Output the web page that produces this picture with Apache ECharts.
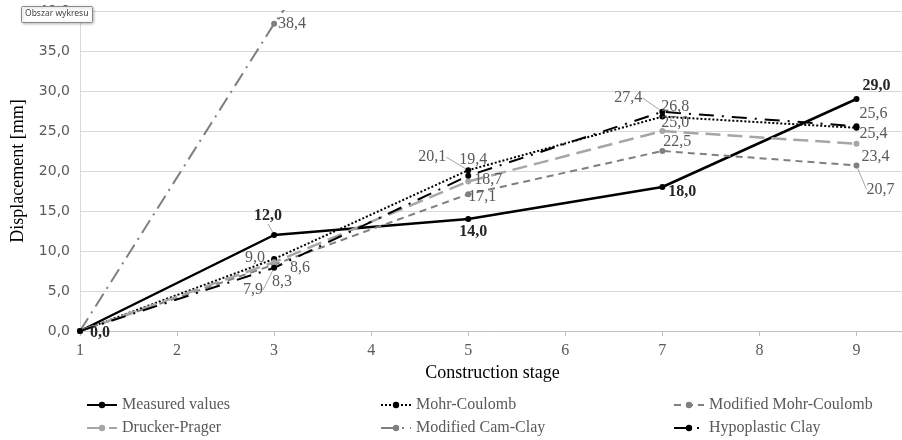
<!DOCTYPE html>
<html><head><meta charset="utf-8">
<script src="https://cdn.jsdelivr.net/npm/echarts@6/dist/echarts.min.js"></script>
<style>html,body{margin:0;padding:0;background:#fff}#c{width:902px;height:440px}</style>
</head><body><div id="c"></div>
<script>
// ---- data ----
const stages = [1, 3, 5, 7, 9];
const yTicks = [0, 5, 10, 15, 20, 25, 30, 35, 40];
const measured       = [0.0, 12.0, 14.0, 18.0, 29.0];
const mohrCoulomb    = [0.0,  9.0, 20.1, 26.8, 25.4];
const modMohrCoulomb = [0.0,  8.3, 17.1, 22.5, 20.7];
const druckerPrager  = [0.0,  8.6, 18.7, 25.0, 23.4];
const modCamClay     = [0.0, 38.4, 73.0, null, null];
const hypoplastic    = [0.0,  7.9, 19.4, 27.4, 25.6];

// ---- label placement (pixel offsets of data labels, null = hidden) ----
const labelOffsets = {
  'Measured values':       [[20, 2], [-6, -19], [5, 13], [20, 5], [20, -13]],
  'Mohr-Coulomb':          [null, [-19, -1], [-36, -13], [13, -10], [17, 6]],
  'Modified Mohr-Coulomb': [null, [8, 17], [14, 3], [15, -9], [24, 24]],
  'Drucker-Prager':        [null, [26, 6], [20, -2], [13, -8], [19, 13]],
  'Modified Cam-Clay':     [null, [18, 0], null],
  'Hypoplastic Clay':      [null, [-21, 22], [5, -16], [-34, -14], [17, -12]]
};
const leaderLines = {
  'Mohr-Coulomb': [2], 'Modified Mohr-Coulomb': [4], 'Hypoplastic Clay': [1, 3], 'Measured values': [1]
};

const fmt = v => v.toFixed(1).replace('.', ',');
const serif = 'Liberation Serif';

function mk(name, values, color, lineStyle, labelColor, bold) {
  const offs = labelOffsets[name];
  const leads = leaderLines[name] || [];
  const data = [];
  const dataOffs = [];
  values.forEach((v, i) => {
    if (v == null) return;
    const o = offs[i];
    data.push({
      value: [stages[i], v],
      label: { show: !!o },
      labelLine: { show: leads.indexOf(i) >= 0 }
    });
    dataOffs.push(o || [0, 0]);
  });
  return {
    name, type: 'line', data, clip: true,
    symbol: 'circle', symbolSize: 6, showAllSymbol: true,
    color,
    itemStyle: { color },
    lineStyle: Object.assign({ color }, lineStyle),
    label: {
      position: 'inside',
      formatter: p => fmt(p.value[1]),
      fontFamily: serif, fontSize: 16,
      fontWeight: bold ? 'bold' : 'normal',
      color: labelColor
    },
    labelLine: { lineStyle: { color: '#a6a6a6', width: 1 } },
    labelLayout: p => ({ dx: dataOffs[p.dataIndex][0], dy: dataOffs[p.dataIndex][1] }),
    emphasis: { disabled: true }
  };
}

const series = [
  mk('Measured values', measured, '#000000', { width: 2.5, type: 'solid' }, '#262626', true),
  mk('Mohr-Coulomb', mohrCoulomb, '#000000', { width: 2, type: [2, 2] }, '#595959', false),
  mk('Modified Mohr-Coulomb', modMohrCoulomb, '#7f7f7f', { width: 2, type: [7, 5] }, '#595959', false),
  mk('Drucker-Prager', druckerPrager, '#a6a6a6', { width: 2.5, type: [15, 7] }, '#595959', false),
  mk('Modified Cam-Clay', modCamClay, '#7f7f7f', { width: 2, type: [15, 6, 2, 6] }, '#595959', false),
  mk('Hypoplastic Clay', hypoplastic, '#000000', { width: 2, type: [15, 8, 2, 8] }, '#595959', false)
];

const legendBase = {
  orient: 'vertical', top: 397, height: 60, padding: 0, itemWidth: 30, itemHeight: 8, itemGap: 7,
  textStyle: { fontFamily: serif, fontSize: 16, lineHeight: 16, color: '#595959' }, selectedMode: false
};

const chart = echarts.init(document.getElementById('c'));
chart.setOption({
  animation: false,
  backgroundColor: '#ffffff',
  grid: { left: 80, right: -3, top: 11, bottom: 109, containLabel: false, outerBoundsMode: 'none' },
  xAxis: {
    type: 'value', min: 1, max: 9.5, interval: 1,
    name: 'Construction stage', nameLocation: 'middle', nameGap: 30,
    nameTextStyle: { fontFamily: serif, fontSize: 18, color: '#000' },
    axisLine: { show: true, lineStyle: { color: '#bfbfbf', width: 1 } },
    axisTick: { show: true, length: 5, lineStyle: { color: '#bfbfbf' } },
    axisLabel: {
      formatter: v => Number.isInteger(v) ? String(v) : '',
      margin: 12, fontFamily: serif, fontSize: 16, color: '#595959'
    },
    splitLine: { show: false }
  },
  yAxis: {
    type: 'value', min: yTicks[0], max: yTicks[yTicks.length - 1], interval: yTicks[1] - yTicks[0],
    name: 'Displacement [mm]', nameLocation: 'middle', nameGap: 53,
    nameTextStyle: { fontFamily: serif, fontSize: 18, color: '#000' },
    axisLine: { show: true, lineStyle: { color: '#d9d9d9' } },
    axisTick: { show: false },
    axisLabel: { formatter: v => fmt(v), margin: 10, fontFamily: 'DejaVu Sans', fontSize: 14, color: '#595959' },
    splitLine: { show: true, lineStyle: { color: '#d9d9d9', width: 1 } }
  },
  legend: [
    Object.assign({ left: 86, data: ['Measured values', 'Drucker-Prager'] }, legendBase),
    Object.assign({ left: 380, data: ['Mohr-Coulomb', 'Modified Cam-Clay'] }, legendBase),
    Object.assign({ left: 673, data: ['Modified Mohr-Coulomb', 'Hypoplastic Clay'] }, legendBase)
  ],
  series,
  graphic: [
    { type: 'rect', left: 21, top: 6, z: 100, zlevel: 1, shape: { width: 71, height: 16, r: 1 },
      style: { fill: '#ffffff', stroke: '#8a8a8a', lineWidth: 1, shadowBlur: 3, shadowColor: 'rgba(0,0,0,0.25)', shadowOffsetX: 1, shadowOffsetY: 1 } },
    { type: 'text', left: 25, top: 9, z: 101, zlevel: 1,
      style: { text: 'Obszar wykresu', fontFamily: 'Noto Sans', fontSize: 8.5, fill: '#404040' } }
  ]
});
</script>
</body></html>
